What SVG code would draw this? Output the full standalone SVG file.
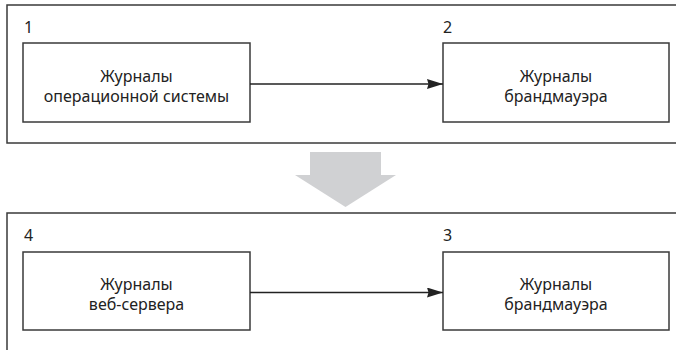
<svg xmlns="http://www.w3.org/2000/svg" width="676" height="350" viewBox="0 0 676 350">
<defs>
<style>
.frame{fill:none;stroke:#3a3a3a;stroke-width:1.5}
.box{fill:#fff;stroke:#3a3a3a;stroke-width:1.5}
.t{font-family:"Noto Sans","Open Sans",sans-serif;font-size:16px;fill:#222;text-anchor:middle}
.n{font-family:"Noto Sans","Open Sans",sans-serif;font-size:16px;fill:#222}
.c{stroke:#222;stroke-width:1.3;fill:none}
</style>
<marker id="ah" viewBox="0 0 16 10" refX="16" refY="5" markerWidth="16" markerHeight="10" markerUnits="userSpaceOnUse" orient="auto">
<path d="M0,0 L16,5 L0,10 L1.5,5 z" fill="#222"/>
</marker>
</defs>
<rect width="676" height="350" fill="#fff"/>
<g id="top-frame">
<rect class="frame" x="7" y="5" width="680" height="138"/>
</g>
<g id="bottom-frame">
<rect class="frame" x="7" y="213" width="680" height="150"/>
</g>
<g id="transition-arrow">
<polygon points="310,152 381,152 381,175 396,175 345.5,207 295,175 310,175" fill="#d0d1d3"/>
</g>
<g id="node1">
<text class="n" x="24" y="33">1</text>
<rect class="box" x="23" y="43" width="227" height="79"/>
<text class="t" x="136.5" y="82">Журналы</text>
<text class="t" x="136.5" y="102">операционной системы</text>
</g>
<g id="node2">
<text class="n" x="443" y="33">2</text>
<rect class="box" x="443" y="43" width="226" height="79"/>
<text class="t" x="556" y="82">Журналы</text>
<text class="t" x="556" y="102">брандмауэра</text>
</g>
<g id="node4">
<text class="n" x="24" y="241">4</text>
<rect class="box" x="23" y="252" width="227" height="78"/>
<text class="t" x="136.5" y="290">Журналы</text>
<text class="t" x="136.5" y="310">веб-сервера</text>
</g>
<g id="node3">
<text class="n" x="443" y="241">3</text>
<rect class="box" x="443" y="252" width="226" height="78"/>
<text class="t" x="556" y="290">Журналы</text>
<text class="t" x="556" y="310">брандмауэра</text>
</g>
<g id="connectors">
<line class="c" x1="250" y1="84" x2="443" y2="84" marker-end="url(#ah)"/>
<line class="c" x1="250" y1="292.5" x2="443" y2="292.5" marker-end="url(#ah)"/>
</g>
</svg>
